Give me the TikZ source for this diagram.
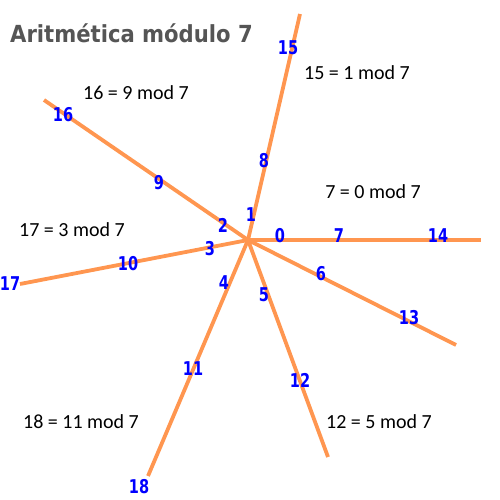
\documentclass[tikz,border=0pt]{standalone}
\usepackage{fontspec}
\setmainfont{Carlito}
\newfontfamily\numfont{DejaVu Sans Condensed}[BoldFont={DejaVu Sans Condensed Bold},BoldFeatures={FakeStretch=0.85}]
\newfontfamily\titlefont{DejaVu Sans Condensed}[BoldFont={DejaVu Sans Condensed Bold}]
\definecolor{rayor}{RGB}{255,150,80}
\definecolor{numblue}{RGB}{0,0,255}
\definecolor{titlegrey}{RGB}{85,85,85}
\begin{document}
\begin{tikzpicture}[x=1pt,y=-1pt,
  ray/.style={draw=rayor,line width=3.8pt},
  num/.style={text=numblue,font=\numfont\bfseries\fontsize{19}{19}\selectfont,inner sep=0pt},
  eq/.style={font=\fontsize{20}{22}\selectfont,inner sep=0pt}]
\useasboundingbox (0,0) rectangle (500,500);
\coordinate (c) at (248,240);
\coordinate (e0) at (481,240);
\coordinate (e1) at (300,14);
\coordinate (e2) at (44,100);
\coordinate (e3) at (20,284);
\coordinate (e4) at (148,476);
\coordinate (e5) at (328,457);
\coordinate (e6) at (456,345);
\foreach \i in {0,...,6} \draw[ray] (c) -- (e\i);
\node[num] (n0) at (280,236) {0};
\node[num] (n7) at (339,236) {7};
\node[num] (n14) at (438,236) {14};
\node[num] (n1) at (251,215) {1};
\node[num] (n8) at (264,161) {8};
\node[num] (n15) at (288,48) {15};
\node[num] (n2) at (223,225) {2};
\node[num] (n9) at (159,183) {9};
\node[num] (n16) at (63,115) {16};
\node[num] (n3) at (210,249) {3};
\node[num] (n10) at (128,264) {10};
\node[num] (n17) at (10,284) {17};
\node[num] (n4) at (224,283) {4};
\node[num] (n11) at (193,369) {11};
\node[num] (n18) at (139,487) {18};
\node[num] (n5) at (264,295) {5};
\node[num] (n12) at (300,380) {12};
\node[num] (n6) at (321,274) {6};
\node[num] (n13) at (409,318) {13};
\node[eq] (t15) at (357,73) {15 = 1 mod 7};
\node[eq] (t16) at (136,93) {16 = 9 mod 7};
\node[eq] (t7) at (373,192) {7 = 0 mod 7};
\node[eq] (t17) at (72,230) {17 = 3 mod 7};
\node[eq] (t18) at (81,422) {18 = 11 mod 7};
\node[eq] (t12) at (379,422) {12 = 5 mod 7};
\node[anchor=west,inner sep=0pt,text=titlegrey,font=\titlefont\bfseries\fontsize{23.5}{24}\selectfont] (title) at (10,33) {Aritmética módulo 7};
\end{tikzpicture}
\end{document}
